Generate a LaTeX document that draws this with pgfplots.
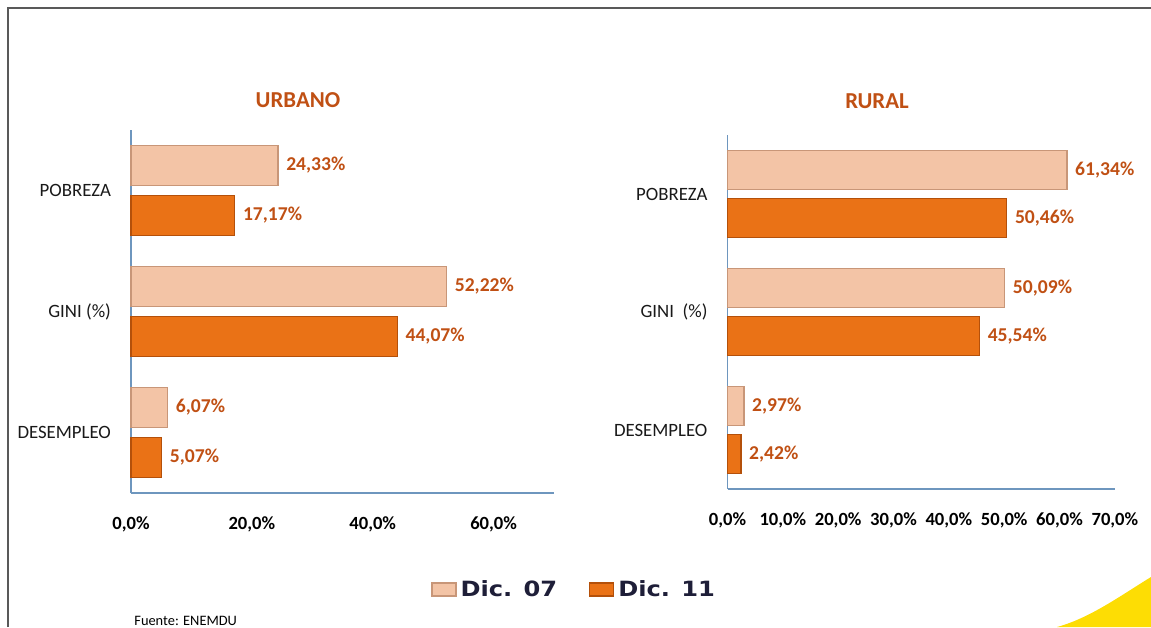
\documentclass[border=0pt]{standalone}
\usepackage{fontspec}
\setmainfont{Carlito}
\newfontfamily\legfont{DejaVu Sans}
\usepackage{pgfplots}
\usepackage{pgfplotstable}
\pgfplotsset{compat=1.18}

\definecolor{peach}{RGB}{243,196,166}
\definecolor{peachbot}{RGB}{200,150,120}
\definecolor{orng}{RGB}{234,114,22}
\definecolor{orngbot}{RGB}{180,80,10}
\definecolor{lbl}{RGB}{192,80,20}
\definecolor{axln}{RGB}{110,150,190}
\definecolor{legtxt}{RGB}{30,30,56}

% categories: 0 = DESEMPLEO, 1 = GINI, 2 = POBREZA
\pgfplotstableread{
cat dic07 dic11
0 6.07 5.07
1 52.22 44.07
2 24.33 17.17
}\urbano
\pgfplotstableread{
cat dic07 dic11
0 2.97 2.42
1 50.09 45.54
2 61.34 50.46
}\rural

\pgfplotsset{
  pbar/.style={
    xbar, scale only axis, clip=false,
    axis lines*=left, axis line style={axln, line width=0.6pt},
    xmin=0, xmax=70, ymin=-0.5, ymax=2.5, ytick={0,1,2},
    major tick length=0pt,
    /pgf/number format/assume math mode=true,
    xticklabel={\pgfmathprintnumber[fixed,fixed zerofill,precision=1,use comma]{\tick}\%},
    xticklabel style={font=\bfseries\fontsize{9.3}{11}\selectfont, yshift=-8.5pt},
    yticklabel style={font=\fontsize{9.4}{11}\selectfont, text=black!90, xshift=-6.5pt},
    nodes near coords={\pgfmathprintnumber[fixed,fixed zerofill,precision=2,use comma]{\pgfplotspointmeta}\%},
    nodes near coords style={anchor=west, text=lbl, font=\bfseries\fontsize{9.8}{11}\selectfont, xshift=0.5pt},
  },
  d07/.style={fill=peach, draw=peachbot, line width=0.6pt},
  d11/.style={fill=orng, draw=orngbot, line width=0.6pt},
}

\begin{document}
\begin{tikzpicture}
\path[use as bounding box] (0pt,0pt) rectangle (575.5pt,-313.5pt);

% URBANO
\begin{axis}[pbar,
  at={(65.5pt,-246.5pt)}, anchor=south west,
  width=211.5pt, height=181.5pt, bar width=20pt,
  xtick={0,20,40,60},
  yticklabels={DESEMPLEO,GINI (\%),POBREZA},
  legend style={at={(1.05,-0.267)}, anchor=center, draw=none, fill=none,
    legend columns=2, text=legtxt,
    font=\legfont\bfseries\fontsize{10.5}{12}\selectfont,
    /tikz/every even column/.append style={column sep=14pt}},
  legend image code/.code={\fill[#1] (0pt,-3pt) rectangle (12pt,3.5pt);},
]
\addplot[d07, bar shift=12.5pt, point meta=x] table[x=dic07, y=cat] {\urbano};
\addplot[d11, bar shift=-12.5pt, point meta=x] table[x=dic11, y=cat] {\urbano};
\legend{\scalebox{1.15}[1]{Dic. 07},\scalebox{1.15}[1]{Dic. 11}}
\end{axis}

% RURAL
\begin{axis}[pbar,
  at={(363.75pt,-244.5pt)}, anchor=south west,
  width=193.7pt, height=177pt, bar width=19.5pt,
  xtick={0,10,...,70},
  yticklabels={DESEMPLEO,GINI\ \ (\%),POBREZA},
]
\addplot[d07, bar shift=12pt, point meta=x] table[x=dic07, y=cat] {\rural};
\addplot[d11, bar shift=-12pt, point meta=x] table[x=dic11, y=cat] {\rural};
\end{axis}

\node[text=lbl, font=\bfseries\fontsize{11.4}{13}\selectfont] at (149pt,-50pt) {URBANO};
\node[text=lbl, font=\bfseries\fontsize{11.4}{13}\selectfont] at (438.5pt,-50.5pt) {RURAL};
\node[anchor=west, inner sep=0pt, font=\fontsize{7.2}{8}\selectfont] at (67pt,-310.5pt) {Fuente: ENEMDU};

\draw[line width=1pt, black!65] (4pt,-313.5pt) -- (4pt,-4pt) -- (575.5pt,-4pt);
\fill[yellow!80!orange] (575.5pt,-288.5pt) .. controls (560pt,-298pt) and (545pt,-309pt) .. (528.5pt,-313.5pt) -- (575.5pt,-313.5pt) -- cycle;
\end{tikzpicture}
\end{document}
